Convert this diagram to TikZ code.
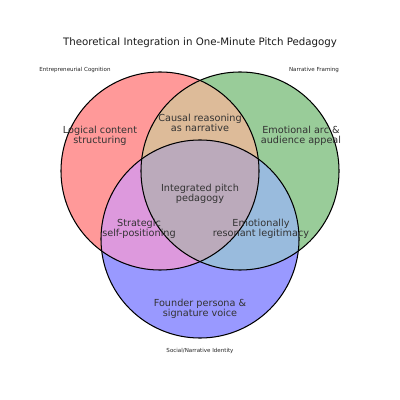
\documentclass[tikz,border=0pt]{standalone}
\usepackage{fontspec}
\setmainfont{DejaVu Sans}
\usepackage{tikz}
\usetikzlibrary{positioning}
\definecolor{cogfill}{HTML}{FF9999}
\definecolor{narfill}{HTML}{99CC99}
\definecolor{idefill}{HTML}{9999FF}
\definecolor{cognarfill}{HTML}{DDBB99}
\definecolor{cogidefill}{HTML}{DD99DD}
\definecolor{naridefill}{HTML}{99BBDD}
\definecolor{allfill}{HTML}{BBAABB}
\newcommand{\setrad}{25.15mm}
\tikzstyle{region} = [align=center, 
inner sep=0pt, 
text=black!80, 
font=\fontsize{7}{7.5}\selectfont]
\tikzstyle{setname} = [inner sep=0pt, 
text=black!85, 
font=\fontsize{4}{4.8}\selectfont]
\tikzstyle{heading} = [inner sep=0pt, 
text=black!90, 
font=\fontsize{7.4}{8.6}\selectfont]
\tikzstyle{ring} = [draw=black, line width=0.75pt]

\begin{document}
\begin{tikzpicture}[x=0.254mm, y=-0.254mm]
\useasboundingbox (0,0) rectangle (400,400);

\coordinate (cog) at (160,171);
\coordinate (nar) at (240,171);
\coordinate (ide) at (200,239);

% single sets
\fill[cogfill] (cog) circle (\setrad);
\fill[narfill] (nar) circle (\setrad);
\fill[idefill] (ide) circle (\setrad);
% pairs
\begin{scope}
\clip (cog) circle (\setrad);
\fill[cognarfill] (nar) circle (\setrad);
\fill[cogidefill] (ide) circle (\setrad);
\end{scope}
\begin{scope}
\clip (nar) circle (\setrad);
\fill[naridefill] (ide) circle (\setrad);
\end{scope}
% centre
\begin{scope}
\clip (cog) circle (\setrad);
\clip (nar) circle (\setrad);
\fill[allfill] (ide) circle (\setrad);
\end{scope}

\draw[ring] (cog) circle (\setrad);
\draw[ring] (nar) circle (\setrad);
\draw[ring] (ide) circle (\setrad);

\node (title) [heading] at (200,43) {Theoretical Integration in One-Minute Pitch Pedagogy};

\node (cogname) [setname] at (75,70) {Entrepreneurial Cognition};
\node (narname) [setname] at (314,70) {Narrative Framing};
\node (idename) [setname] at (200,351) {Social/Narrative Identity};

\node (logic) [region] at (100,136) {Logical content\\structuring};
\node (causal) [region] at (200,123) {Causal reasoning\\as narrative};
\node (emotion) [region] at (301,136) {Emotional arc \&\\audience appeal};
\node (core) [region] at (200,194) {Integrated pitch\\pedagogy};
\node (strategic) [region] at (139,229) {Strategic\\self-positioning};
\node (resonant) [region] at (261,229) {Emotionally\\resonant legitimacy};
\node (founder) [region] at (200,309) {Founder persona \&\\signature voice};

\end{tikzpicture}
\end{document}
